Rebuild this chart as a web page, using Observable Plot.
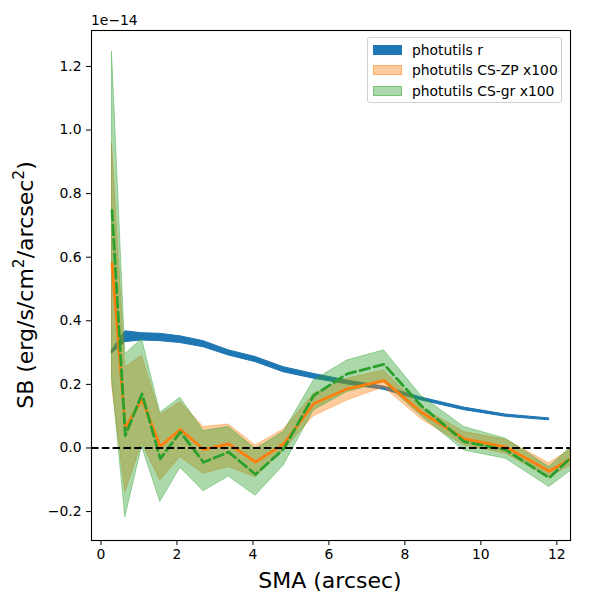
<!DOCTYPE html>
<html>
<head>
<meta charset="utf-8">
<script src="https://cdn.jsdelivr.net/npm/d3@7"></script>
<script src="https://cdn.jsdelivr.net/npm/@observablehq/plot@0.6"></script>
<style>
  body { margin: 0; background: white; font-family: "DejaVu Sans", sans-serif; }
  #chart { position: relative; width: 600px; height: 600px; }
  .legend { position: absolute; left: 367px; top: 37px; width: 195px; height: 66px;
    border: 1px solid #d0d0d0; border-radius: 3px; background: rgba(255,255,255,0.8); box-sizing: border-box; }
  .legend .row { position: absolute; left: 5px; height: 20px; display: flex; align-items: center; font-size: 13.9px; }
  .legend .patch { width: 29px; height: 10px; margin-right: 10px; box-sizing: border-box; }
</style>
</head>
<body>
<div id="chart"></div>
<script>
// SB values in units of 1e-14 erg/s/cm^2/arcsec^2
const sma = [0.29, 0.64, 1.08, 1.56, 2.09, 2.70, 3.36, 4.07, 4.81, 5.60, 6.48, 7.45, 8.42, 9.56, 10.66, 11.80, 13.0];

// photutils r (band, stops at 11.8)
const rLow  = [0.297, 0.333, 0.338, 0.336, 0.330, 0.317, 0.291, 0.270, 0.238, 0.218, 0.200, 0.183, 0.150, 0.119, 0.098, 0.087];
const rHigh = [0.307, 0.367, 0.361, 0.359, 0.351, 0.336, 0.307, 0.286, 0.254, 0.233, 0.212, 0.193, 0.159, 0.127, 0.105, 0.093];

// photutils CS-ZP x100
const zpMid  = [0.58, 0.063, 0.153, 0.005, 0.058, -0.005, 0.013, -0.044, 0.013, 0.139, 0.186, 0.212, 0.113, 0.029, 0.003, -0.073, 0.008];
const zpLow  = [0.20, -0.139, 0.016, -0.102, -0.029, -0.081, -0.060, -0.092, -0.008, 0.100, 0.149, 0.191, 0.092, 0.008, -0.018, -0.092, -0.015];
const zpHigh = [0.957, 0.254, 0.290, 0.104, 0.144, 0.066, 0.074, 0.008, 0.058, 0.170, 0.218, 0.244, 0.128, 0.050, 0.026, -0.048, 0.045];

// photutils CS-gr x100
const grMid  = [0.747, 0.039, 0.170, -0.034, 0.050, -0.045, -0.013, -0.083, -0.003, 0.165, 0.233, 0.263, 0.134, 0.020, -0.006, -0.094, 0.040];
const grLow  = [0.22, -0.218, 0.005, -0.170, -0.062, -0.136, -0.090, -0.150, -0.055, 0.118, 0.176, 0.207, 0.102, -0.008, -0.034, -0.123, -0.015];
const grHigh = [1.245, 0.295, 0.343, 0.111, 0.158, 0.053, 0.066, -0.003, 0.050, 0.212, 0.275, 0.307, 0.165, 0.066, 0.029, -0.060, 0.070];

const xTicks = [0, 2, 4, 6, 8, 10, 12];
const yTicks = [-0.2, 0.0, 0.2, 0.4, 0.6, 0.8, 1.0, 1.2];

const seriesNames = ["photutils r", "photutils CS-ZP x100", "photutils CS-gr x100"];
const seriesColors = ["#1f77b4", "#ff7f0e", "#2ca02c"];

const rData = rLow.map((lo, i) => ({x: sma[i], lo, hi: rHigh[i]}));
const zpData = sma.map((x, i) => ({x, mid: zpMid[i], lo: zpLow[i], hi: zpHigh[i]}));
const grData = sma.map((x, i) => ({x, mid: grMid[i], lo: grLow[i], hi: grHigh[i]}));

const chart = Plot.plot({
  width: 600,
  height: 600,
  marginLeft: 91,
  marginRight: 30,
  marginTop: 30,
  marginBottom: 60,
  style: {fontFamily: "DejaVu Sans", fontSize: "13.9px", color: "black", background: "white"},
  x: {domain: [-0.25, 12.36]},
  y: {domain: [-0.291, 1.313]},
  marks: [
    Plot.areaY(rData, {x: "x", y1: "lo", y2: "hi", fill: seriesColors[0], stroke: seriesColors[0], strokeWidth: 1, clip: true}),
    Plot.areaY(zpData, {x: "x", y1: "lo", y2: "hi", fill: seriesColors[1], fillOpacity: 0.4,
      stroke: seriesColors[1], strokeOpacity: 0.4, strokeWidth: 1, clip: true}),
    Plot.areaY(grData, {x: "x", y1: "lo", y2: "hi", fill: seriesColors[2], fillOpacity: 0.4,
      stroke: seriesColors[2], strokeOpacity: 0.4, strokeWidth: 1, clip: true}),
    Plot.line(zpData, {x: "x", y: "mid", stroke: seriesColors[1], strokeWidth: 2.8, clip: true}),
    Plot.line(grData, {x: "x", y: "mid", stroke: seriesColors[2], strokeWidth: 2.8, strokeDasharray: "10,4.5", clip: true}),
    Plot.ruleY([0], {stroke: "black", strokeWidth: 2, strokeDasharray: "7.5,3.3"}),
    Plot.frame({stroke: "black", strokeWidth: 1.1}),
    Plot.axisX({ticks: xTicks, tickSize: 5, tickPadding: 4, label: null, tickFormat: d3.format("d")}),
    Plot.axisY({ticks: yTicks, tickSize: 5, tickPadding: 5, label: null, tickFormat: d3.format(".1f")})
  ]
});

const svg = d3.select(chart);

// offset text
svg.append("text")
  .attr("x", 91).attr("y", 25)
  .attr("text-anchor", "start")
  .attr("font-size", "13.9px")
  .text("1e\u221214");

// x label
svg.append("text")
  .attr("x", 330).attr("y", 588)
  .attr("text-anchor", "middle")
  .attr("font-size", "22px")
  .text("SMA (arcsec)");

// y label with superscripts
const yl = svg.append("text")
  .attr("transform", "translate(33,285) rotate(-90)")
  .attr("text-anchor", "middle")
  .attr("font-size", "22px");
yl.append("tspan").text("SB (erg/s/cm");
yl.append("tspan").attr("dy", -9).attr("font-size", "15.5px").text("2");
yl.append("tspan").attr("dy", 9).text("/arcsec");
yl.append("tspan").attr("dy", -9).attr("font-size", "15.5px").text("2");
yl.append("tspan").attr("dy", 9).text(")");

const container = document.getElementById("chart");
container.append(chart);

// legend
const legend = d3.select(container).append("div").attr("class", "legend");
seriesNames.forEach((name, i) => {
  const row = legend.append("div").attr("class", "row").style("top", (2 + i * 20.4) + "px");
  const patch = row.append("div").attr("class", "patch");
  if (i === 0) {
    patch.style("background", seriesColors[i]);
  } else {
    const c = d3.color(seriesColors[i]);
    c.opacity = 0.4;
    patch.style("background", c.formatRgb()).style("border", "1px solid " + c.formatRgb());
  }
  row.append("span").text(name);
});
</script>
</body>
</html>
